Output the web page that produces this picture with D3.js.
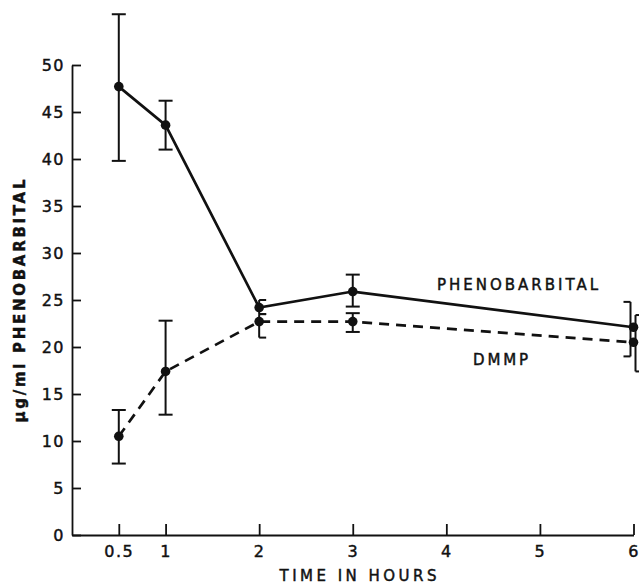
<!DOCTYPE html>
<html>
<head>
<meta charset="utf-8">
<script src="https://cdn.jsdelivr.net/npm/d3@7"></script>
<style>
  body { margin: 0; background: #fff; }
  text { font-family: "DejaVu Sans", sans-serif; fill: #111; stroke: #111; stroke-width: 0.45px; }
</style>
</head>
<body>
<script>
const w = 639;
const h = 586;

// data
const times = [0.5, 1, 2, 3, 6];
const phenoMean = [47.7, 43.6, 24.2, 25.9, 22.1];
const phenoLow = [39.8, 41.0, 23.5, 24.3, 19.0];
const phenoHigh = [55.4, 46.2, 25.0, 27.7, 24.8];
const dmmpMean = [10.5, 17.4, 22.7, 22.7, 20.5];
const dmmpLow = [7.6, 12.8, 21.0, 21.6, 17.4];
const dmmpHigh = [13.3, 22.8, 23.5, 23.6, 23.4];
const xTicks = [0.5, 1, 2, 3, 4, 5, 6];
const xTickLabels = ["0.5", "1", "2", "3", "4", "5", "6"];
const yTicks = [0, 5, 10, 15, 20, 25, 30, 35, 40, 45, 50];

// how the error bars were inked (caps on one side where bars crowd)
const phenoCaps = ["both", "both", "right", "both", "left"];
const dmmpCaps = ["both", "both", "right", "both", "right"];
const phenoShift = [0, 0, 0, 0, -3];
const dmmpShift = [0, 0, 0, 0, 2];

let svg = d3.select("body")
    .append("svg")
    .attr("width", w)
    .attr("height", h);

let x = d3.scaleLinear().domain([0, 6]).range([72, 633.5]);
let y = d3.scaleLinear().domain([0, 50]).range([535, 65]);

// y axis
let yAxis = svg.append("g")
    .attr("transform", "translate(" + x(0) + ",0)")
    .call(d3.axisLeft(y).tickValues(yTicks).tickSizeInner(-9).tickSizeOuter(0).tickPadding(7));
yAxis.selectAll("text").style("font-size", "16px").style("letter-spacing", "1.5px");

// x axis
let xAxis = svg.append("g")
    .attr("transform", "translate(0," + y(0) + ")")
    .call(d3.axisBottom(x).tickValues(xTicks).tickFormat((d, i) => xTickLabels[i])
        .tickSizeInner(-11).tickSizeOuter(0).tickPadding(11));
xAxis.selectAll("text").style("font-size", "16px").style("letter-spacing", "1.5px");
svg.selectAll(".domain, .tick line").attr("stroke", "#111").attr("stroke-width", 1.8);
svg.selectAll(".tick text").attr("fill", "#111").style("font-family", "DejaVu Sans, sans-serif");

// axis titles
svg.append("text")
    .attr("x", 358).attr("y", 581)
    .attr("text-anchor", "middle")
    .attr("textLength", 157)
    .style("font-size", "15px")
    .text("TIME IN HOURS");

svg.append("text")
    .attr("transform", "translate(25,301) rotate(-90)")
    .attr("text-anchor", "middle")
    .attr("textLength", 243)
    .style("font-size", "15px")
    .style("font-weight", "bold")
    .text("μg/ml PHENOBARBITAL");

function drawSeries(mean, low, high, caps, shift, dash) {
    let pts = times.map((t, i) => ({ t: t, v: mean[i], lo: low[i], hi: high[i], cap: caps[i], dx: shift[i] }));

    let line = d3.line().x(d => x(d.t)).y(d => y(d.v));
    svg.append("path")
        .datum(pts)
        .attr("d", line)
        .attr("fill", "none")
        .attr("stroke", "#111")
        .attr("stroke-width", 2.7)
        .attr("stroke-dasharray", dash);

    let eb = svg.append("g").attr("stroke", "#111").attr("stroke-width", 2).attr("fill", "none");
    pts.forEach(d => {
        let cx = x(d.t) + d.dx;
        let left = d.cap === "right" ? 0 : 7;
        let right = d.cap === "left" ? 0 : 7;
        eb.append("line").attr("x1", cx).attr("x2", cx).attr("y1", y(d.hi)).attr("y2", y(d.lo));
        eb.append("line").attr("x1", cx - left).attr("x2", cx + right).attr("y1", y(d.hi)).attr("y2", y(d.hi));
        eb.append("line").attr("x1", cx - left).attr("x2", cx + right).attr("y1", y(d.lo)).attr("y2", y(d.lo));
    });

    svg.selectAll(null)
        .data(pts)
        .enter()
        .append("circle")
        .attr("cx", d => x(d.t))
        .attr("cy", d => y(d.v))
        .attr("r", 4.8)
        .attr("fill", "#111");
}

drawSeries(phenoMean, phenoLow, phenoHigh, phenoCaps, phenoShift, null);
drawSeries(dmmpMean, dmmpLow, dmmpHigh, dmmpCaps, dmmpShift, "10,7");

// series labels
svg.append("text")
    .attr("x", 437).attr("y", 290)
    .attr("textLength", 161)
    .style("font-size", "15px")
    .text("PHENOBARBITAL");

svg.append("text")
    .attr("x", 473).attr("y", 365)
    .attr("textLength", 55)
    .style("font-size", "15px")
    .text("DMMP");
</script>
</body>
</html>
